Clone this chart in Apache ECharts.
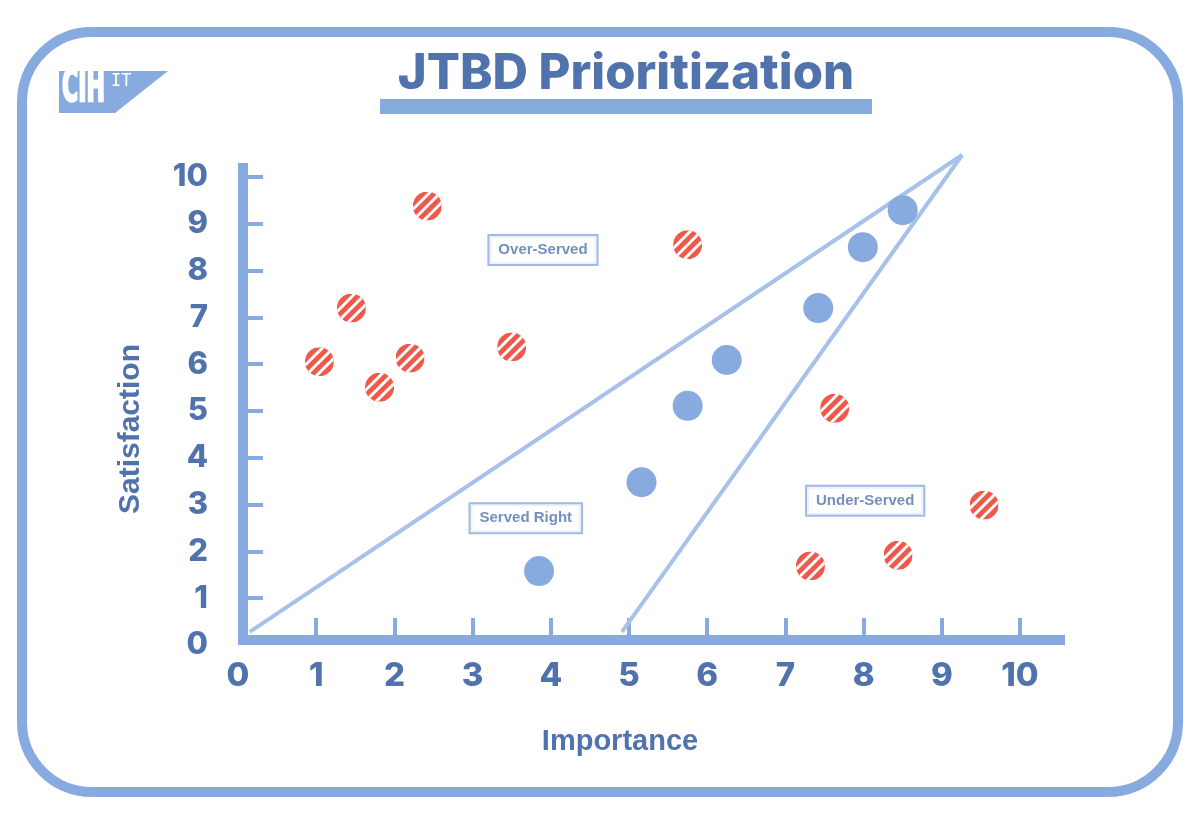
<!DOCTYPE html>
<html lang="en">
  <head>
    <meta charset="UTF-8" />
    <title>JTBD Prioritization</title>
    <style>
      html,
      body {
        margin: 0;
        padding: 0;
        background: #fff;
      }

      #main {
        width: 1200px;
        height: 831px;
      }
    </style>
    <script src="https://cdn.jsdelivr.net/npm/echarts@6/dist/echarts.min.js"></script>
  </head>
  <body>
    <div id="main"></div>
    <script>
      // jobs that are served right (blue dots)
      const servedRight = [
        [3.85, 1.58],
        [5.16, 3.48],
        [5.75, 5.11],
        [6.25, 6.09],
        [7.42, 7.2],
        [7.99, 8.5],
        [8.5, 9.29]
      ]

      // over / under served jobs (red hatched dots)
      const misServed = [
        [2.42, 9.38],
        [1.45, 7.2],
        [1.04, 6.05],
        [1.81, 5.51],
        [2.2, 6.13],
        [3.5, 6.37],
        [5.75, 8.55],
        [7.63, 5.06],
        [7.32, 1.69],
        [8.44, 1.92],
        [9.54, 2.99]
      ]

      // boundary lines of the "served right" wedge
      const upperEdge = [[0.15, 0.28], [9.26, 10.47]]
      const lowerEdge = [[4.91, 0.28], [9.26, 10.47]]

      const zoneNames = ['Over-Served', 'Served Right', 'Under-Served']
      const zonePos = [[3.9, 8.44], [3.68, 2.71], [8.02, 3.08]]

      const tickValues = [1, 2, 3, 4, 5, 6, 7, 8, 9, 10]
      const labelValues = [0, 1, 2, 3, 4, 5, 6, 7, 8, 9, 10]

      const light = '#87aadf'
      const dark = '#5073ad'
      const red = '#f0584a'

      // red dot with white diagonal stripes
      const hatchSvg =
        "<svg xmlns='http://www.w3.org/2000/svg' width='60' height='60' viewBox='0 0 30 30'>" +
        "<defs><clipPath id='c'><circle cx='15' cy='15' r='15'/></clipPath></defs>" +
        "<circle cx='15' cy='15' r='15' fill='" + red + "'/>" +
        "<g clip-path='url(#c)' stroke='#fff' stroke-width='3'>" +
        "<line x1='0' y1='18.7' x2='18.7' y2='0'/>" +
        "<line x1='0' y1='30' x2='30' y2='0'/>" +
        "<line x1='11.3' y1='30' x2='30' y2='11.3'/>" +
        '</g></svg>'
      const hatchSymbol = 'image://data:image/svg+xml;charset=utf-8,' + encodeURIComponent(hatchSvg)

      const chart = echarts.init(document.getElementById('main'))

      const tickLabel = {
        color: dark,
        fontFamily: 'Inter',
        fontWeight: 800
      }

      const option = {
        animation: false,
        backgroundColor: '#fff',
        grid: [
          // data area
          { left: 238, top: 177, width: 782, height: 468 },
          // grid that only carries the thick axis lines
          { left: 243, top: 168, width: 817, height: 472 }
        ],
        xAxis: [
          {
            gridIndex: 0,
            type: 'value',
            min: 0,
            max: 10,
            interval: 1,
            splitLine: { show: false },
            axisLine: { show: false },
            axisTick: {
              show: true,
              inside: true,
              length: 27,
              customValues: tickValues,
              lineStyle: { color: light, width: 4 }
            },
            axisLabel: Object.assign({ margin: 15, fontSize: 33, customValues: labelValues }, tickLabel),
            name: 'Importance',
            nameLocation: 'middle',
            nameGap: 82,
            nameTextStyle: {
              color: dark,
              fontFamily: 'Liberation Sans',
              fontWeight: 'bold',
              fontSize: 29,
              padding: [0, 18, 0, 0]
            }
          },
          {
            gridIndex: 1,
            type: 'value',
            min: 0,
            max: 1,
            splitLine: { show: false },
            axisTick: { show: false },
            axisLabel: { show: false },
            axisLine: { show: true, lineStyle: { color: light, width: 10, cap: 'square' } }
          }
        ],
        yAxis: [
          {
            gridIndex: 0,
            type: 'value',
            min: 0,
            max: 10,
            interval: 1,
            splitLine: { show: false },
            axisLine: { show: false },
            axisTick: {
              show: true,
              inside: true,
              length: 25,
              customValues: tickValues,
              lineStyle: { color: light, width: 4 }
            },
            axisLabel: Object.assign({ margin: 30, fontSize: 31, customValues: labelValues }, tickLabel),
            name: 'Satisfaction',
            nameLocation: 'middle',
            nameGap: 92,
            nameTextStyle: {
              color: dark,
              fontFamily: 'Liberation Sans',
              fontWeight: 'bold',
              fontSize: 30,
              padding: [0, 36, 0, 0]
            }
          },
          {
            gridIndex: 1,
            type: 'value',
            min: 0,
            max: 1,
            splitLine: { show: false },
            axisTick: { show: false },
            axisLabel: { show: false },
            axisLine: { show: true, lineStyle: { color: light, width: 10, cap: 'square' } }
          }
        ],
        graphic: [
          {
            type: 'rect',
            shape: { x: 22, y: 32, width: 1156, height: 760, r: 70 },
            style: { fill: 'none', stroke: light, lineWidth: 10 },
            z: 1
          },
          {
            type: 'polygon',
            shape: { points: [[59, 71], [168, 71], [115, 113], [59, 113]] },
            style: { fill: light },
            z: 2
          },
          {
            type: 'text',
            x: 62,
            y: 90,
            scaleX: 0.56,
            style: {
              text: 'CIH',
              fill: '#fff',
              stroke: '#fff',
              lineWidth: 2.5,
              font: 'bold 44px "DejaVu Sans Condensed", "DejaVu Sans"',
              verticalAlign: 'middle'
            },
            z: 3
          },
          {
            type: 'text',
            x: 111,
            y: 82,
            style: {
              text: 'IT',
              fill: '#fff',
              font: '17px "DejaVu Sans Mono"',
              verticalAlign: 'middle'
            },
            z: 3
          },
          {
            type: 'text',
            x: 626,
            y: 74,
            style: {
              text: 'JTBD Prioritization',
              fill: dark,
              font: '800 49px Inter',
              align: 'center',
              verticalAlign: 'middle'
            },
            z: 3
          },
          {
            type: 'rect',
            shape: { x: 380, y: 99, width: 492, height: 15 },
            style: { fill: light },
            z: 2
          }
        ],
        series: [
          {
            type: 'line',
            xAxisIndex: 0,
            yAxisIndex: 0,
            data: upperEdge,
            showSymbol: false,
            clip: false,
            lineStyle: { color: '#a6c1ea', width: 4 },
            z: 2
          },
          {
            type: 'line',
            xAxisIndex: 0,
            yAxisIndex: 0,
            data: lowerEdge,
            showSymbol: false,
            clip: false,
            lineStyle: { color: '#a6c1ea', width: 4 },
            z: 2
          },
          {
            type: 'scatter',
            xAxisIndex: 0,
            yAxisIndex: 0,
            data: servedRight,
            symbolSize: 30,
            itemStyle: { color: light, opacity: 1 },
            z: 3
          },
          {
            type: 'scatter',
            xAxisIndex: 0,
            yAxisIndex: 0,
            data: misServed,
            symbol: hatchSymbol,
            symbolSize: 29,
            itemStyle: { opacity: 1 },
            z: 3
          },
          {
            type: 'scatter',
            xAxisIndex: 0,
            yAxisIndex: 0,
            symbolSize: 0,
            data: zonePos.map((p, i) => ({ value: p, name: zoneNames[i] })),
            label: {
              show: true,
              position: 'inside',
              formatter: '{b}',
              color: dark,
              fontFamily: 'Liberation Sans',
              fontWeight: 'bold',
              fontSize: 15,
              backgroundColor: '#fff',
              borderColor: light,
              borderWidth: 2,
              padding: [7, 9, 6, 9]
            },
            z: 4
          }
        ]
      }

      chart.setOption(option)
    </script>
  </body>
</html>
